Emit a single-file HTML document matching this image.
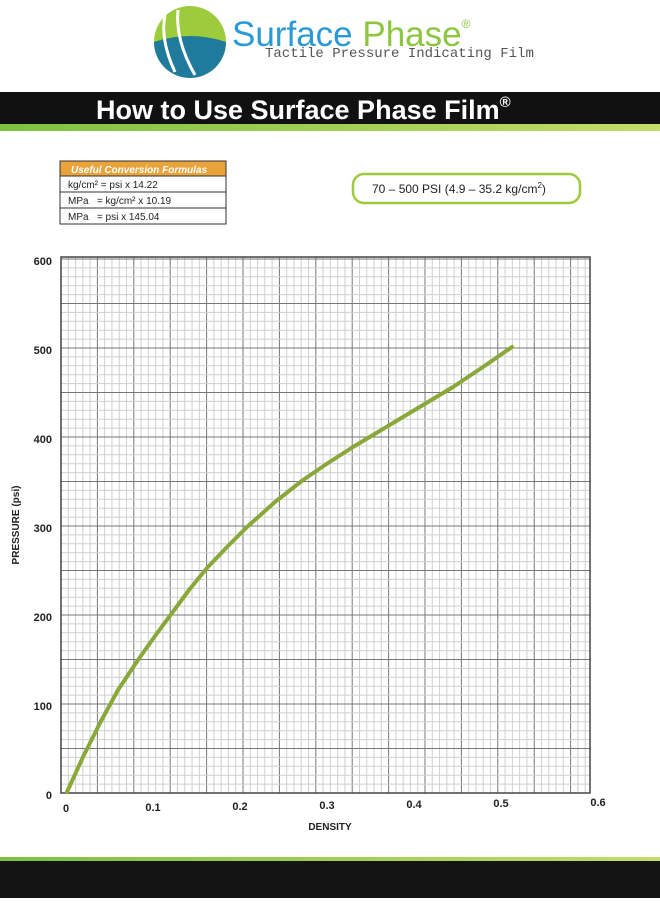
<!DOCTYPE html>
<html><head><style>
body{margin:0;width:660px;height:906px;background:#fff;position:relative;overflow:hidden;font-family:"Liberation Sans",sans-serif}
.a{position:absolute}
</style></head><body>
<svg class="a" style="left:0;top:0" width="660" height="906">
<defs>
<linearGradient id="lg" x1="0" y1="0" x2="1" y2="0"><stop offset="0" stop-color="#7cc142"/><stop offset="1" stop-color="#c4dc6a"/></linearGradient>
</defs>
<ellipse cx="190" cy="42" rx="36" ry="36" fill="#9ccc3c"/>
<path d="M154 42 A36 36 0 0 0 226 42 Q190 30 154 42Z" fill="#1f7a9c"/>
<path d="M165 15 Q160 40 175 72" stroke="#fff" stroke-width="3" fill="none"/>
<path d="M178 10 Q175 40 195 75" stroke="#fff" stroke-width="3" fill="none"/>
<text x="232" y="46" font-size="35" fill="#2a9ad6" font-family="Liberation Sans">Surface <tspan fill="#8cc63f">Phase</tspan><tspan font-size="12" dy="-18" fill="#8cc63f">®</tspan></text>
<text x="265" y="57" font-size="14" fill="#555" font-family="Liberation Mono">Tactile Pressure Indicating Film</text>
<rect x="0" y="92" width="660" height="33" fill="#111"/>
<rect x="0" y="124" width="660" height="7" fill="url(#lg)"/>
<text x="96" y="119" font-size="27" font-weight="bold" fill="#fff">How to Use Surface Phase Film<tspan font-size="15" dy="-12">®</tspan></text>
<rect x="60" y="161" width="166" height="15" fill="#e8a33a"/>
<text x="71" y="173" font-size="10" font-style="italic" font-weight="bold" fill="#fff">Useful Conversion Formulas</text>
<rect x="60" y="161" width="166" height="63" fill="none" stroke="#333" stroke-width="1"/>
<line x1="60" y1="176" x2="226" y2="176" stroke="#333"/>
<line x1="60" y1="192" x2="226" y2="192" stroke="#333"/>
<line x1="60" y1="208" x2="226" y2="208" stroke="#333"/>
<text x="68" y="188" font-size="10" fill="#222">kg/cm² = psi x 14.22</text>
<text x="68" y="204" font-size="10" fill="#222">MPa &#160;&#160;= kg/cm² x 10.19</text>
<text x="68" y="220" font-size="10" fill="#222">MPa &#160;&#160;= psi x 145.04</text>
<rect x="353" y="174" width="227" height="29" rx="11" fill="#fff" stroke="#9ccc3c" stroke-width="2.5"/>
<text x="372" y="193" font-size="12" fill="#222">70 – 500 PSI  (4.9 – 35.2 kg/cm<tspan font-size="8" dy="-5">2</tspan><tspan dy="5">)</tspan></text>
<g id="grid"></g>
<rect x="0" y="857" width="660" height="5" fill="url(#lg)"/>
<rect x="0" y="861" width="660" height="37" fill="#141414"/>
<g font-size="11" font-weight="bold" fill="#222" text-anchor="end">
<text x="52" y="265">600</text><text x="52" y="354">500</text><text x="52" y="443">400</text><text x="52" y="532">300</text><text x="52" y="621">200</text><text x="52" y="710">100</text><text x="52" y="799">0</text>
</g>
<g font-size="11" font-weight="bold" fill="#222" text-anchor="middle">
<text x="66" y="812">0</text><text x="153" y="811">0.1</text><text x="240" y="810">0.2</text><text x="327" y="809">0.3</text><text x="414" y="808">0.4</text><text x="501" y="807">0.5</text><text x="598" y="806">0.6</text>
</g>
<text x="330" y="830" font-size="10" font-weight="bold" fill="#222" text-anchor="middle">DENSITY</text>
<text transform="translate(19,525) rotate(-90)" font-size="10" font-weight="bold" fill="#222" text-anchor="middle">PRESSURE (psi)</text>
</svg>
<script>
var g=document.getElementById('grid'),s='';
var L=61,R=590,T=257,B=793;
for(var i=0;;i++){var x=L+i*7.28;if(x>R)break;s+='<line x1="'+x+'" y1="'+T+'" x2="'+x+'" y2="'+B+'" stroke="'+(i%5==0?'#777':'#cfcfcf')+'" stroke-width="1"/>';}
for(var j=0;;j++){var y=B-j*8.9;if(y<T)break;s+='<line x1="'+L+'" y1="'+y+'" x2="'+R+'" y2="'+y+'" stroke="'+(j%5==0?'#777':'#cfcfcf')+'" stroke-width="1"/>';}
s+='<rect x="'+L+'" y="'+T+'" width="'+(R-L)+'" height="'+(B-T)+'" fill="none" stroke="#444" stroke-width="1.5"/>';
s+='<polyline points="67,792 83,757 100,723 118,690 138,660 155,636 172,613 189,590 207,568 227,547 247,527 275,502 303,480 328,463 353,447 373,435 393,423 423,405 453,387 483,367 512,347" fill="none" stroke="#8aa83a" stroke-width="4" stroke-linecap="round" stroke-linejoin="round"/>';
g.innerHTML=s;
</script>
</body></html>
